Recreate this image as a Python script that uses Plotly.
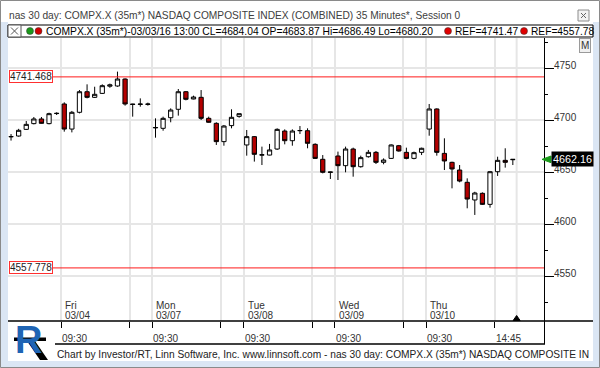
import plotly.graph_objects as go

# ---------------- data ----------------
bar_index = list(range(67))
opens = [4683.87, 4684.6, 4691.0, 4696.5, 4701.0, 4696.5, 4706.2, 4715.4, 4691.3, 4707.4,
         4727.2, 4721.8, 4725.6, 4732.5, 4732.7, 4739.4, 4715.3, 4715.0, 4715.0, 4692.4,
         4692.0, 4702.2, 4710.3, 4727.2, 4720.2, 4721.8, 4701.6, 4696.8, 4679.2, 4694.6,
         4703.5, 4676.0, 4684.0, 4666.2, 4666.3, 4672.1, 4689.4, 4680.1, 4689.7, 4689.7,
         4676.6, 4662.2, 4650.0, 4665.4, 4656.1, 4672.1, 4655.1, 4664.7, 4668.9, 4659.3,
         4663.1, 4675.3, 4668.9, 4663.1, 4668.9, 4691.3, 4710.6, 4667.9, 4659.3, 4651.9,
         4640.1, 4623.1, 4629.5, 4618.9, 4650.3, 4661.2, 4661.8]
highs = [4686.49, 4691.5, 4699.0, 4702.9, 4702.9, 4707.0, 4707.4, 4717.0, 4708.7, 4728.8,
         4734.3, 4732.0, 4734.3, 4735.0, 4746.5, 4740.0, 4715.6, 4720.8, 4716.7, 4701.6,
         4703.2, 4711.2, 4729.8, 4727.9, 4723.4, 4728.8, 4703.2, 4697.8, 4695.2, 4710.3,
         4706.1, 4690.4, 4684.6, 4674.4, 4677.0, 4692.0, 4691.0, 4691.0, 4694.2, 4692.0,
         4677.6, 4666.3, 4650.3, 4669.6, 4674.4, 4673.4, 4665.7, 4671.2, 4670.2, 4663.1,
         4676.6, 4676.0, 4673.4, 4669.6, 4673.4, 4715.4, 4711.2, 4682.4, 4659.9, 4656.7,
         4643.9, 4631.0, 4630.4, 4651.0, 4664.7, 4672.8, 4662.5]
lows = [4680.20, 4684.0, 4690.4, 4695.8, 4696.5, 4695.8, 4704.8, 4688.8, 4688.1, 4706.4,
        4720.8, 4721.2, 4725.0, 4731.0, 4732.0, 4713.8, 4703.2, 4712.8, 4713.8, 4683.0,
        4689.7, 4697.8, 4704.2, 4718.9, 4719.9, 4700.0, 4697.4, 4676.0, 4675.3, 4692.0,
        4702.2, 4665.7, 4660.0, 4656.7, 4666.0, 4671.2, 4676.6, 4675.3, 4686.5, 4672.8,
        4662.5, 4648.7, 4643.3, 4642.3, 4649.7, 4645.5, 4654.2, 4663.8, 4657.7, 4657.4,
        4662.5, 4669.6, 4662.2, 4662.2, 4666.3, 4684.9, 4665.7, 4651.9, 4634.3, 4640.1,
        4615.1, 4608.7, 4618.3, 4615.7, 4646.2, 4654.2, 4656.7]
closes = [4684.04, 4690.1, 4695.8, 4701.0, 4696.8, 4706.1, 4706.4, 4691.3, 4707.4, 4727.2,
          4721.8, 4724.7, 4733.0, 4733.8, 4739.4, 4715.4, 4715.0, 4715.3, 4715.3, 4692.8,
          4701.6, 4709.6, 4727.2, 4719.9, 4722.1, 4701.6, 4697.8, 4679.2, 4694.2, 4702.6,
          4706.1, 4684.0, 4667.0, 4666.6, 4671.2, 4691.0, 4680.1, 4689.4, 4689.9, 4677.6,
          4663.1, 4649.7, 4649.8, 4656.1, 4672.1, 4655.1, 4663.8, 4668.9, 4659.3, 4661.5,
          4676.0, 4670.2, 4663.1, 4668.6, 4672.8, 4710.6, 4668.9, 4660.6, 4652.9, 4641.3,
          4624.0, 4629.8, 4618.9, 4650.3, 4661.2, 4659.3, 4662.16]

day_names = ["Fri", "Mon", "Tue", "Wed", "Thu"]
day_dates = ["03/04", "03/07", "03/08", "03/09", "03/10"]
day_start_bars = [7, 19, 31, 43, 55]          # 09:30 bars
afternoon_bars = [16, 28, 40, 52, 64]         # 14:45 bars
y_ticks = [4550, 4600, 4650, 4700, 4750]
y_minor = [4525, 4575, 4625, 4675, 4725, 4775]
ref_levels = [4741.468, 4557.778]
last_price = 4662.16

title_text = "nas 30 day: COMPX.X (35m*) NASDAQ COMPOSITE INDEX (COMBINED) 35 Minutes*, Session 0"
legend_text = "COMPX.X (35m*)-03/03/16 13:00 CL=4684.04 OP=4683.87 Hi=4686.49 Lo=4680.20"
ref_legend = ["REF=4741.47", "REF=4557.78"]
footer_text = "Chart by Investor/RT, Linn Software, Inc. www.linnsoft.com - nas 30 day: COMPX.X (35m*) NASDAQ COMPOSITE IN"

# ---------------- layout geometry (pixels) ----------------
W, H = 600, 368
PL, PR, PT, PB = 8, 544, 38, 321
FONT = "Liberation Sans"


def px(x):
    return (x - PL) / (PR - PL)


def py(y):
    return (PB - y) / (PB - PT)


grid_bars = sorted([b - 0.4 for b in day_start_bars + afternoon_bars])

fig = go.Figure()
fig.add_trace(go.Candlestick(
    x=bar_index, open=opens, high=highs, low=lows, close=closes,
    increasing=dict(fillcolor="white", line=dict(color="black", width=1)),
    decreasing=dict(fillcolor="#b40000", line=dict(color="black", width=1)),
    whiskerwidth=0, showlegend=False, hoverinfo="skip",
))

shapes = []
annotations = []

# window frame
shapes.append(dict(type="rect", xref="paper", yref="paper", x0=px(0), x1=px(8), y0=py(362), y1=py(22),
                   fillcolor="#dbe6f4", line_width=0, layer="below"))
shapes.append(dict(type="rect", xref="paper", yref="paper", x0=px(593), x1=px(600), y0=py(362), y1=py(22),
                   fillcolor="#dbe6f4", line_width=0, layer="below"))
shapes.append(dict(type="rect", xref="paper", yref="paper", x0=px(0), x1=px(600), y0=py(368), y1=py(361),
                   fillcolor="#dbe6f4", line_width=0, layer="below"))
shapes.append(dict(type="rect", xref="paper", yref="paper", x0=px(0.5), x1=px(599.5), y0=py(367.5), y1=py(0.5),
                   fillcolor="rgba(0,0,0,0)", line=dict(color="#8a8a8a", width=1)))

# title bar close button
shapes.append(dict(type="rect", xref="paper", yref="paper", x0=px(578), x1=px(589), y0=py(21), y1=py(10),
                   fillcolor="#f2f2f2", line=dict(color="#8c8c8c", width=1)))
shapes.append(dict(type="line", xref="paper", yref="paper", x0=px(581), x1=px(586), y0=py(13), y1=py(18),
                   line=dict(color="#666", width=1)))
shapes.append(dict(type="line", xref="paper", yref="paper", x0=px(581), x1=px(586), y0=py(18), y1=py(13),
                   line=dict(color="#666", width=1)))
annotations.append(dict(text=title_text, xref="paper", yref="paper", x=px(7), y=py(15),
                        xanchor="left", yanchor="middle", showarrow=False,
                        font=dict(family=FONT, size=10.2, color="#404040")))

# legend row
shapes.append(dict(type="rect", xref="paper", yref="paper", x0=px(8), x1=px(593), y0=py(37), y1=py(25),
                   fillcolor="white", line=dict(color="black", width=1)))
shapes.append(dict(type="rect", xref="paper", yref="paper", x0=px(8), x1=px(21), y0=py(37), y1=py(25),
                   fillcolor="white", line=dict(color="#555", width=1)))
shapes.append(dict(type="line", xref="paper", yref="paper", x0=px(11), x1=px(18), y0=py(27.5), y1=py(34.5),
                   line=dict(color="#555", width=1)))
shapes.append(dict(type="line", xref="paper", yref="paper", x0=px(11), x1=px(18), y0=py(34.5), y1=py(27.5),
                   line=dict(color="#555", width=1)))
for cx, col in [(30, "#1a9a1a"), (38.5, "#d00000"), (448, "#e00000"), (524, "#e00000")]:
    shapes.append(dict(type="circle", xref="paper", yref="paper", x0=px(cx - 3.5), x1=px(cx + 3.5),
                       y0=py(34.5), y1=py(27.5), fillcolor=col, line=dict(color="#333", width=0.5)))
annotations.append(dict(text=legend_text, xref="paper", yref="paper", x=px(44), y=py(31),
                        xanchor="left", yanchor="middle", showarrow=False,
                        font=dict(family=FONT, size=10.3, color="black")))
for xx, t in zip([453, 529], ref_legend):
    annotations.append(dict(text=t, xref="paper", yref="paper", x=px(xx), y=py(31),
                            xanchor="left", yanchor="middle", showarrow=False,
                            font=dict(family=FONT, size=10.2, color="black")))

# last gridline / current bar marker
shapes.append(dict(type="line", xref="x", yref="paper", x0=66.5, x1=66.5, y0=0, y1=1,
                   line=dict(color="#e6e6e6", width=2), layer="below"))
shapes.append(dict(type="path", xref="x", yref="paper",
                   path=f"M 66.04 {py(320.5)} L 66.96 {py(320.5)} L 66.5 {py(315.5)} Z",
                   fillcolor="black", line=dict(color="black", width=1)))

# reference lines
for lvl in ref_levels:
    shapes.append(dict(type="line", xref="paper", yref="y", x0=px(49), x1=1, y0=lvl, y1=lvl,
                       line=dict(color="#ff1a1a", width=1)))
    annotations.append(dict(text=f"{lvl:.3f}", xref="paper", yref="y", x=px(8.5), y=lvl,
                            xanchor="left", yanchor="middle", showarrow=False,
                            bgcolor="white", bordercolor="#ff3030", borderwidth=1, borderpad=0,
                            font=dict(family=FONT, size=10, color="#222")))

# x axis base line and time row box
shapes.append(dict(type="line", xref="paper", yref="paper", x0=px(8), x1=px(593), y0=0, y1=0,
                   line=dict(color="black", width=1.5)))
shapes.append(dict(type="line", xref="paper", yref="paper", x0=px(55), x1=px(545), y0=py(344), y1=py(344),
                   line=dict(color="black", width=1.5)))
shapes.append(dict(type="line", xref="paper", yref="paper", x0=px(544.5), x1=px(544.5), y0=py(344), y1=0,
                   line=dict(color="black", width=1)))

# day labels
for b, dn, dd in zip(day_start_bars, day_names, day_dates):
    annotations.append(dict(text=dn, xref="x", yref="paper", x=b - 0.4, y=py(305), xshift=2,
                            xanchor="left", yanchor="middle", showarrow=False,
                            font=dict(family=FONT, size=10, color="#333")))
    annotations.append(dict(text=dd, xref="x", yref="paper", x=b - 0.4, y=py(315), xshift=2,
                            xanchor="left", yanchor="middle", showarrow=False,
                            font=dict(family=FONT, size=10, color="#333")))
    annotations.append(dict(text="09:30", xref="x", yref="paper", x=b - 0.4, y=py(338), xshift=-1,
                            xanchor="left", yanchor="middle", showarrow=False,
                            font=dict(family=FONT, size=10, color="#333")))
annotations.append(dict(text="14:45", xref="x", yref="paper", x=afternoon_bars[-1] - 0.4, y=py(338), xshift=-1,
                        xanchor="left", yanchor="middle", showarrow=False,
                        font=dict(family=FONT, size=10, color="#333")))

# y tick labels
for v in y_ticks:
    annotations.append(dict(text=str(v), xref="paper", yref="y", x=px(552), y=v, yshift=3,
                            xanchor="left", yanchor="middle", showarrow=False,
                            font=dict(family=FONT, size=10, color="#333")))

# "M" button
annotations.append(dict(text="M", xref="paper", yref="paper", x=px(584.5), y=py(46),
                        xanchor="center", yanchor="middle", showarrow=False,
                        bgcolor="#f0f0f0", bordercolor="#9a9a9a", borderwidth=1, borderpad=1,
                        font=dict(family=FONT, size=10, color="#333")))

# last price marker
shapes.append(dict(type="path", xref="paper", yref="y",
                   path=f"M {px(542)} {last_price} L {px(551)} {last_price + 3.2} L {px(551)} {last_price - 3.2} Z",
                   fillcolor="#1a9a1a", line=dict(color="#1a9a1a", width=1)))
annotations.append(dict(text=f"{last_price:.2f}", xref="paper", yref="y", x=px(551), y=last_price,
                        xanchor="left", yanchor="middle", showarrow=False,
                        bgcolor="black", borderpad=1,
                        font=dict(family=FONT, size=10.8, color="white")))

# logo: black leg + band, blue R
shapes.append(dict(type="path", xref="paper", yref="paper",
                   path=f"M {px(27)} {py(341)} L {px(35)} {py(341)} L {px(48)} {py(360)} L {px(40)} {py(360)} Z",
                   fillcolor="black", line_width=0))
annotations.append(dict(text="<b>R</b>", xref="paper", yref="paper", x=px(28), y=py(340),
                        xanchor="center", yanchor="middle", showarrow=False,
                        font=dict(family="Liberation Sans", size=38, color="#1e64b4")))
shapes.append(dict(type="rect", xref="paper", yref="paper", x0=px(14), x1=px(46), y0=py(341), y1=py(337.5),
                   fillcolor="black", line_width=0))

# footer
annotations.append(dict(text=footer_text, xref="paper", yref="paper", x=px(55), y=py(354),
                        xanchor="left", yanchor="middle", showarrow=False,
                        font=dict(family=FONT, size=10.2, color="#222")))

fig.update_layout(
    width=W, height=H,
    margin=dict(l=PL, r=W - PR, t=PT, b=H - PB, pad=0),
    paper_bgcolor="white", plot_bgcolor="white",
    showlegend=False, boxgap=0.2,
    shapes=shapes, annotations=annotations,
    xaxis=dict(range=[-0.4, 70.1], rangeslider=dict(visible=False),
               tickvals=grid_bars, showticklabels=False, ticks="outside", ticklen=6,
               tickcolor="black", tickwidth=1, showgrid=True, gridcolor="#e6e6e6", gridwidth=2,
               showline=False, zeroline=False, fixedrange=True),
    yaxis=dict(range=[4506.73, 4778.85], side="right", tickvals=y_ticks, showticklabels=False,
               ticks="outside", ticklen=9, tickcolor="black", tickwidth=1,
               minor=dict(tickvals=y_minor, ticks="outside", ticklen=3, tickcolor="black", showgrid=False),
               showgrid=True, gridcolor="#e6e6e6", gridwidth=2,
               showline=True, linecolor="black", linewidth=1, zeroline=False, fixedrange=True),
)

fig.write_html("out.html", config={"displayModeBar": False},
               post_script="document.body.style.margin='0';document.body.style.padding='0';")
